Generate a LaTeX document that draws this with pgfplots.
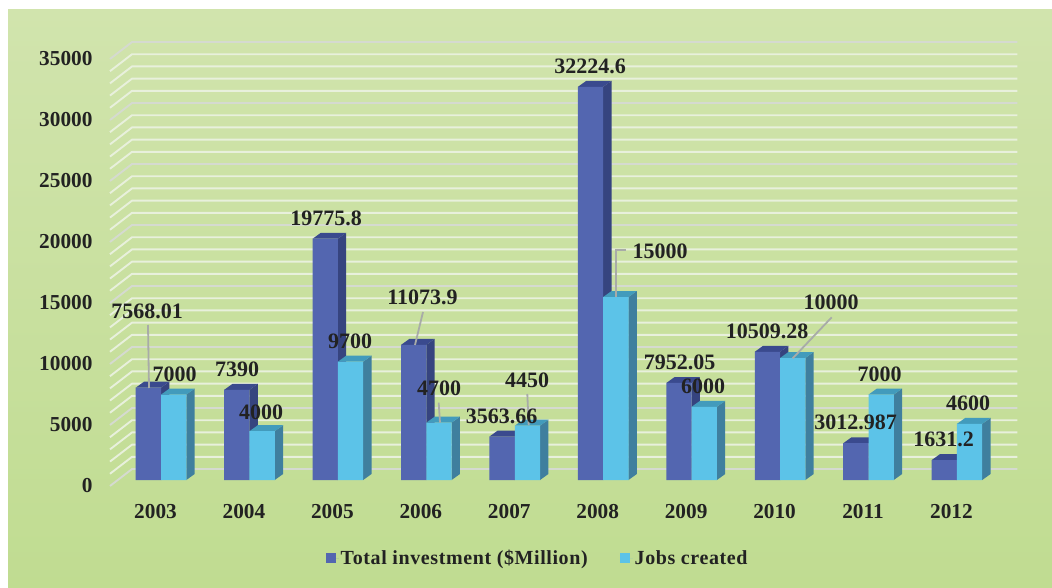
\documentclass[border=0pt]{standalone}
\usepackage{fontspec}
\setmainfont{Liberation Serif}
\usepackage{pgfplots}
\usepackage{pgfplotstable}
\pgfplotsset{compat=1.18}
\definecolor{bgtop}{HTML}{D1E4AD}
\definecolor{bgbot}{HTML}{C0DC91}
\definecolor{darkfront}{HTML}{5366B0}
\definecolor{darkside}{HTML}{36447F}
\definecolor{darktop}{HTML}{3A4A8E}
\definecolor{lightfront}{HTML}{5CC3E8}
\definecolor{lightside}{HTML}{3F7F9E}
\definecolor{lighttop}{HTML}{429BBC}
\definecolor{gridmajor}{HTML}{D5DAD0}
\definecolor{gridminor}{HTML}{E8F0DC}
\definecolor{ink}{HTML}{222222}
\definecolor{leader}{HTML}{A8ABA8}

\pgfplotstableread{
i year inv jobs
0 2003 7568.01 7000
1 2004 7390 4000
2 2005 19775.8 9700
3 2006 11073.9 4700
4 2007 3563.66 4450
5 2008 32224.6 15000
6 2009 7952.05 6000
7 2010 10509.28 10000
8 2011 3012.987 7000
9 2012 1631.2 4600
}\datatable

% gridline: front-left foot, back wall corner, right end
\newcommand\gridline[2]{%
  \edef\ga{\fpeval{#1-490}}\edef\gb{\fpeval{#1+900}}%
  \edef\tmp{\noexpand\addplot[forget plot,draw=#2,line width=1.9pt] coordinates {(-0.577,\ga)(-0.328,\gb)(9.683,\gb)};}\tmp}
% side and top faces of one bar: #1 right edge x, #2 value
\newcommand\threed[4]{%
  \edef\xr{\fpeval{#1}}\edef\xl{\fpeval{#1-0.286}}%
  \edef\xrd{\fpeval{#1+0.094}}\edef\xld{\fpeval{#1-0.286+0.094}}%
  \edef\vv{\fpeval{#2}}\edef\vt{\fpeval{#2+490}}%
  \edef\tmp{\noexpand\addplot[forget plot,draw=none,fill=#3] coordinates {(\xr,0)(\xrd,490)(\xrd,\vt)(\xr,\vv)} --cycle;
    \noexpand\addplot[forget plot,draw=none,fill=#4] coordinates {(\xl,\vv)(\xld,\vt)(\xrd,\vt)(\xr,\vv)} --cycle;}\tmp}

\newcommand\lab[3]{\node[inner sep=0pt,text=ink,font=\bfseries\fontsize{22}{24}\selectfont] at ({#1*1pt},{(587-#2)*1pt}) {#3};}

\begin{document}
\begin{tikzpicture}[x=1pt,y=1pt]
\useasboundingbox (0,0) rectangle (1052,587);
\shade[top color=bgtop,bottom color=bgbot] (8,0) rectangle (1052,577);
\begin{axis}[
  at={(110pt,107pt)},anchor=south west,
  scale only axis,width=906pt,height=427pt,
  xmin=-0.577,xmax=9.668,ymin=0,ymax=35000,
  clip=false,
  axis line style={draw=none},
  major tick style={draw=none},
  xtick={0,...,9},
  xticklabels={2003,2004,2005,2006,2007,2008,2009,2010,2011,2012},
  ytick={0,5000,...,35000},
  scaled y ticks=false,
  /pgf/number format/assume math mode=true,
  /pgf/number format/set thousands separator={},
  tick label style={font=\bfseries\fontsize{21.3}{24}\selectfont,text=ink},
  yticklabel style={xshift=-14pt,yshift=-5.5pt},
  xticklabel style={xshift=-5.5pt,yshift=-21pt},
  legend cell align=left,
  legend columns=2,
  legend style={at={(0.472,-0.183)},anchor=center,draw=none,fill=none,
    font=\bfseries\fontsize{20}{24}\selectfont\addfontfeatures{LetterSpace=3},text=ink,
    /tikz/every even column/.append style={column sep=30pt}},
]
\pgfplotsinvokeforeach{1000,2000,3000,4000,6000,7000,8000,9000,11000,12000,13000,14000,16000,17000,18000,19000,21000,22000,23000,24000,26000,27000,28000,29000,31000,32000,33000,34000}{\gridline{#1}{gridminor}}
\pgfplotsinvokeforeach{0,5000,10000,15000,20000,25000,30000,35000}{\gridline{#1}{gridmajor}}

\pgfplotsinvokeforeach{0,...,9}{%
  \pgfplotstablegetelem{#1}{inv}\of\datatable
  \threed{#1}{\pgfplotsretval}{darkside}{darktop}}
\addplot[ybar,bar width=25.3pt,bar shift=-12.65pt,draw=none,fill=darkfront,
  legend image code/.code={\fill[darkfront] (0pt,-5pt) rectangle (10pt,5pt);\path (0pt,0pt) rectangle (13pt,0pt);}]
  table[x=i,y=inv]{\datatable};
\addlegendentry{Total investment (\$Million)}

\pgfplotsinvokeforeach{0,...,9}{%
  \pgfplotstablegetelem{#1}{jobs}\of\datatable
  \threed{#1+0.286}{\pgfplotsretval}{lightside}{lighttop}}
\addplot[ybar,bar width=25.3pt,bar shift=12.65pt,draw=none,fill=lightfront,
  legend image code/.code={\fill[lightfront] (0pt,-5pt) rectangle (10pt,5pt);\path (0pt,0pt) rectangle (13pt,0pt);}]
  table[x=i,y=jobs]{\datatable};
\addlegendentry{Jobs created}
\end{axis}

\begin{scope}[leader,line width=1.8pt]
\draw (148,{587-325}) -- (149,{587-388});
\draw (423,{587-312}) -- (415,{587-345});
\draw (438.7,{587-402.7}) -- (440,{587-422.7});
\draw (527.3,{587-394}) -- (528.7,{587-425});
\draw (625.7,{587-249.7}) -- (615.7,{587-249.7}) -- (615.7,{587-297.3});
\draw (831.7,{587-317.3}) -- (792.7,{587-358.3});
\end{scope}
\lab{147}{311}{7568.01}
\lab{174.5}{374.3}{7000}
\lab{237}{369}{7390}
\lab{261}{412}{4000}
\lab{326}{218}{19775.8}
\lab{350}{341}{9700}
\lab{422.5}{297}{11073.9}
\lab{439}{388}{4700}
\lab{501.7}{416}{3563.66}
\lab{527}{380}{4450}
\lab{590}{66.7}{32224.6}
\lab{660}{251}{15000}
\lab{679.5}{362.7}{7952.05}
\lab{703}{386.7}{6000}
\lab{767}{331.7}{10509.28}
\lab{831}{302.3}{10000}
\lab{855.7}{422.7}{3012.987}
\lab{879.7}{374.3}{7000}
\lab{943.7}{439.3}{1631.2}
\lab{968}{403.3}{4600}
\end{tikzpicture}
\end{document}
